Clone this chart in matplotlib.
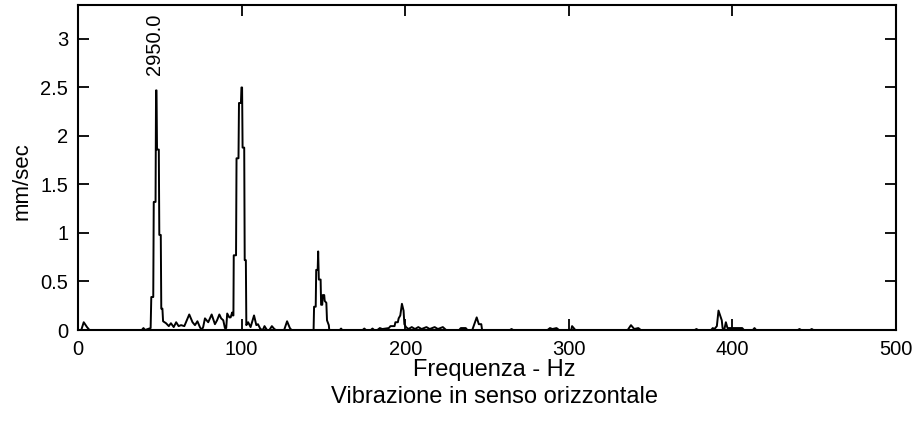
import matplotlib
matplotlib.use("Agg")
import matplotlib.pyplot as plt

plt.rcParams['font.family'] = ['Liberation Sans', 'DejaVu Sans']

# Spectrum trace (frequency in Hz, amplitude in mm/sec)
freq = [0, 2, 3.5, 5.5, 7, 39, 40, 41, 44.4,
        44.8, 46.0, 46.3, 47.4, 47.7, 48.0, 48.3, 49.4, 49.7, 50.6, 50.9, 51.6, 52.0,
        53.8, 55.5, 56.8, 58.5, 60, 61.5, 63, 65, 68, 70, 71.5, 73, 74.5, 75.6, 76.5,
        77.6, 79.6, 81.7, 83.7, 85, 86.4, 87.5, 88.8, 89.8, 90.6, 91.2, 92.5, 93.3,
        94.2, 94.6, 95.0,
        95.2, 96.6, 96.9, 98.1, 98.4, 99.6, 99.9, 100.3, 100.6, 101.6, 101.9, 102.6,
        102.9, 104, 105.5, 107.6, 109, 110, 111.5, 113, 114, 115.5, 117, 118.5, 120,
        121, 126, 127.8, 129.5, 130.5, 144.0,
        144.3, 145.3, 145.6, 146.5, 146.8, 147.2, 148.3, 148.6, 149.3, 149.6, 150.5,
        150.8, 151.8, 152.2, 153.3, 153.6,
        160, 160.8, 161.5, 174, 175, 176, 179, 180, 181, 183, 184.5, 186, 190, 191,
        193.5, 194, 195.5, 196, 197, 198, 199, 199.5, 200.5, 202, 204, 206, 208, 210,
        213, 215, 218, 220, 223, 225, 233, 234, 237, 238, 241, 243.7, 245, 246.5, 247,
        264, 265, 266, 287, 288.5, 290, 292.5, 294, 301.5, 302, 303.5, 304, 336, 338,
        340, 342.5, 344, 377, 378, 379, 387, 388, 389, 390.5, 391.5, 392.7, 393.5, 394,
        395, 396, 397, 398, 406, 407, 412.5, 413.5, 414.5, 440, 441, 442, 447.5, 448.5,
        449.5, 500]
amp = [0, 0, 0.08, 0.03, 0, 0, 0.02, 0, 0.02,
       0.34, 0.34, 1.32, 1.32, 2.47, 2.47, 1.86, 1.86, 0.98, 0.98, 0.22, 0.22, 0.09,
       0.07, 0.04, 0.07, 0.03, 0.08, 0.04, 0.05, 0.04, 0.16, 0.08, 0.05, 0.09, 0.03, 0.0, 0.03,
       0.12, 0.08, 0.16, 0.06, 0.10, 0.16, 0.12, 0.10, 0.02, 0.02, 0.17, 0.13, 0.13,
       0.18, 0.15, 0.15,
       0.77, 0.77, 1.77, 1.77, 2.34, 2.34, 2.50, 2.50, 1.88, 1.88, 0.72, 0.72,
       0.05, 0.08, 0.03, 0.15, 0.05, 0.06, 0.01, 0, 0.04, 0, 0, 0.04, 0.01,
       0, 0, 0.09, 0.02, 0, 0,
       0.24, 0.24, 0.62, 0.62, 0.81, 0.52, 0.52, 0.26, 0.26, 0.36, 0.36,
       0.30, 0.28, 0.10, 0.05, 0,
       0, 0.015, 0, 0, 0.015, 0, 0, 0.015, 0, 0, 0.02, 0.01, 0.02, 0.04,
       0.04, 0.08, 0.08, 0.12, 0.15, 0.27, 0.20, 0.06, 0.03, 0.01, 0.03, 0.01, 0.03, 0.01,
       0.03, 0.01, 0.03, 0.01, 0.03, 0, 0, 0.02, 0.02, 0, 0, 0.13, 0.06, 0.06, 0,
       0, 0.01, 0, 0, 0.02, 0.01, 0.02, 0, 0, 0.04, 0.01, 0, 0, 0.05,
       0.01, 0.02, 0, 0, 0.01, 0, 0, 0.02, 0.01, 0.04, 0.20, 0.14, 0.10, 0.02,
       0.0, 0.08, 0.02, 0.02, 0.02, 0, 0, 0.02, 0, 0, 0.01, 0, 0, 0.01,
       0, 0]

x_ticks = [0, 100, 200, 300, 400, 500]
y_ticks = [0, 0.5, 1, 1.5, 2, 2.5, 3]
y_tick_labels = ["0", "0.5", "1", "1.5", "2", "2.5", "3"]
peak_label = "2950.0"
peak_label_pos = (47, 2.63)

fig = plt.figure(figsize=(9.14, 4.21), dpi=100)
ax = fig.add_axes([78/914, 1-330/421, (896-78)/914, (330-5)/421])
ax.plot(freq, amp, color='black', lw=1.4)
ax.set_xlim(0, 500)
ax.set_ylim(0, 3.35)
ax.set_xticks(x_ticks)
ax.set_xticklabels([str(t) for t in x_ticks])
ax.set_yticks(y_ticks)
ax.set_yticklabels(y_tick_labels)
ax.tick_params(direction='in', top=True, right=True, length=8, width=1.3,
               labelsize=14.5, pad=7, colors='black')
for s in ax.spines.values():
    s.set_linewidth(1.5)

ax.text(peak_label_pos[0], peak_label_pos[1], peak_label, rotation=90,
        ha='center', va='bottom', fontsize=14.5)

fig.text(22/914, 1-181/421, "mm/sec", rotation=90, ha='center', va='center', fontsize=16)
fig.text(494/914, 1-370/421, "Frequenza - Hz", ha='center', va='center', fontsize=17)
fig.text(494/914, 1-397/421, "Vibrazione in senso orizzontale", ha='center', va='center', fontsize=17)

fig.savefig("out.png", dpi=100)
